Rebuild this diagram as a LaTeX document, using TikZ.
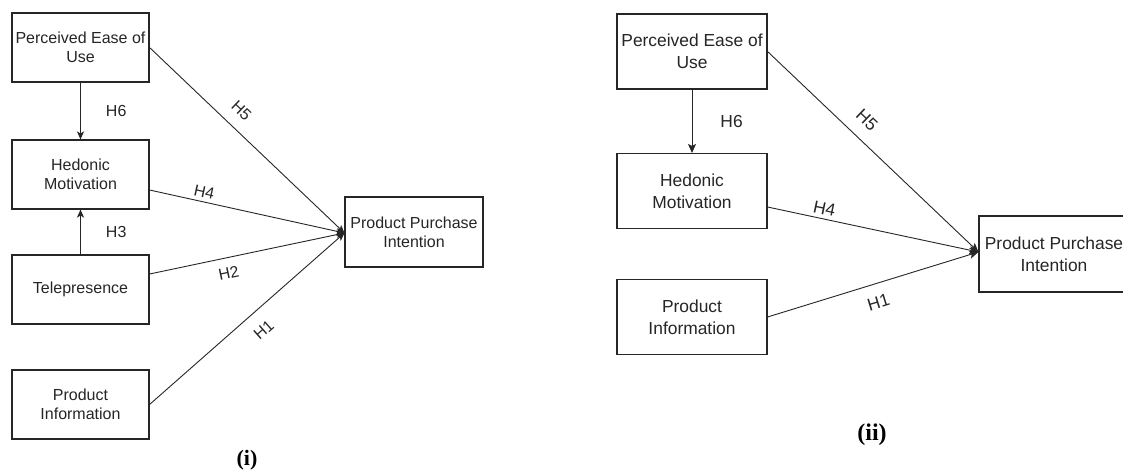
\documentclass[tikz,border=0pt]{standalone}
\usepackage{fontspec}
\setmainfont{Liberation Sans}
\newfontfamily\capfont{Liberation Serif}
\usetikzlibrary{arrows.meta,calc}
\begin{document}
\begin{tikzpicture}[x=1pt,y=-1pt,
  boxa/.style={draw=black!85, line width=1.1pt, minimum width=137pt, minimum height=69pt, inner sep=0pt, align=center, text=black!85, font=\fontsize{16}{19}\selectfont},
  boxb/.style={boxa, minimum width=150pt, minimum height=75pt, font=\fontsize{17.4}{21.6}\selectfont},
  linka/.style={draw=black!85, line width=0.9pt, -{Stealth[length=8pt,width=7pt,inset=2pt]}},
  linkb/.style={linka, -{Stealth[length=9pt,width=8pt,inset=2pt]}},
  hlab/.style={text=black!85, inner sep=2pt, font=\fontsize{16}{19}\selectfont},
  hlabb/.style={text=black!85, inner sep=2pt, font=\fontsize{17.4}{21}\selectfont},
  captext/.style={text=black, font=\capfont\bfseries\fontsize{22}{26}\selectfont}
]
\useasboundingbox[fill=white] (0,0) rectangle (1123,471);

% ---------- panel (i) ----------
\node[boxa] (peou1) at (80.5,47.5) {Perceived Ease of\\Use};
\node[boxa] (hm1) at (80.5,174.5) {Hedonic\\Motivation};
\node[boxa] (tp1) at (80.5,289.5) {Telepresence};
\node[boxa] (pi1) at (80.5,404.5) {Product\\Information};
\node[boxa, minimum width=138pt, minimum height=70pt] (ppi1) at (414,232) {Product Purchase\\Intention};

\coordinate (hm1o) at ($(hm1.east)+(0,15.5)$);
\coordinate (tp1o) at ($(tp1.east)+(0,-15.5)$);
\coordinate (ppi1t) at ($(ppi1.west)+(0,1)$);

\draw[linka] (peou1) -- node[hlab, right=23pt] {H6} (hm1);
\draw[linka] (tp1) -- node[hlab, right=23pt] {H3} (hm1);
\draw[linka] (peou1.east) -- node[hlab, sloped, above=9.3pt, pos=0.41] {H5} (ppi1t);
\draw[linka] (hm1o) -- node[hlab, sloped, above=1.8pt, pos=0.27] {H4} (ppi1t);
\draw[linka] (tp1o) -- node[hlab, sloped, below=7.1pt, pos=0.39] {H2} (ppi1t);
\draw[linka] (pi1.east) -- node[hlab, sloped, below=11.5pt, pos=0.52] {H1} (ppi1t);

\node[captext] (capi) at (247,460) {(i)};

% ---------- panel (ii) ----------
\node[boxb] (peou2) at (692,51.5) {Perceived Ease of\\Use};
\node[boxb] (hm2) at (692,191) {Hedonic\\Motivation};
\node[boxb] (pi2) at (692,317) {Product\\Information};
\node[boxb, minimum height=76pt] (ppi2) at (1054,254) {Product Purchase\\Intention};

\coordinate (hm2o) at ($(hm2.east)+(0,16)$);
\coordinate (ppi2t) at ($(ppi2.west)+(0,-2)$);

\draw[linkb] (peou2) -- node[hlabb, right=26pt] {H6} (hm2);
\draw[linkb] (peou2.east) -- node[hlabb, sloped, above=10.3pt, pos=0.41] {H5} (ppi2t);
\draw[linkb] (hm2o) -- node[hlabb, sloped, above=1.7pt, pos=0.26] {H4} (ppi2t);
\draw[linkb] (pi2.east) -- node[hlabb, sloped, below=10.5pt, pos=0.5] {H1} (ppi2t);

\node[captext, font=\capfont\bfseries\fontsize{24}{28}\selectfont] (capii) at (872,435) {(ii)};
\end{tikzpicture}
\end{document}
